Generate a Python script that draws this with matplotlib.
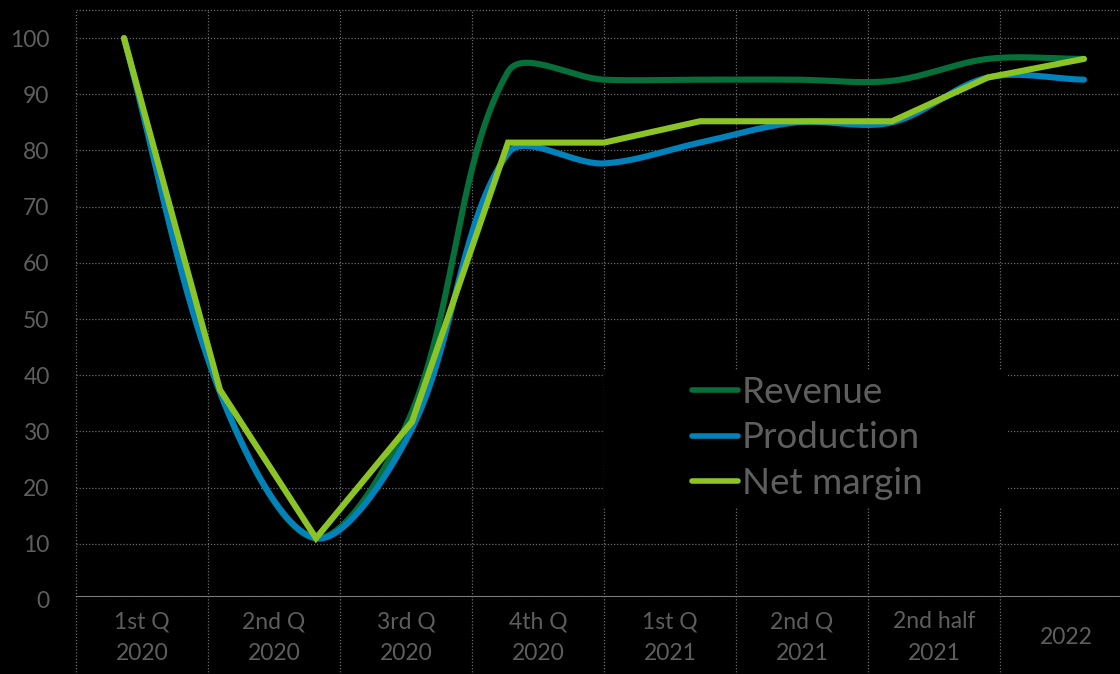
import numpy as np
import matplotlib
matplotlib.use("Agg")
from matplotlib import pyplot as plt
from matplotlib.patches import Rectangle

plt.rcParams['font.family'] = ['Lato', 'DejaVu Sans']

# category axis (bottom)
categories = ["1st Q\n2020", "2nd Q\n2020", "3rd Q\n2020", "4th Q\n2020",
              "1st Q\n2021", "2nd Q\n2021", "2nd half\n2021", "2022"]

# series are plotted on their own 11-step axis
revenue    = [100, 37, 11, 33.5, 94.0, 92.6, 92.6, 92.6, 92.4, 96.3, 96.3]
production = [100, 37, 11, 30.5, 79.5, 77.7, 81.4, 85.0, 85.0, 93.0, 92.6]
net_margin = [100, 37.4, 11, 31.7, 81.4, 81.4, 85.2, 85.2, 85.2, 93.0, 96.3]

C_REV  = "#07703a"
C_PROD = "#0082bb"
C_NET  = "#8cc425"
GREY   = "#5e5e5e"
GRID   = "#6a6a6a"

SX = 96.0    # px per series step
SY = 5.617   # px per y unit


def smooth(yy, n=40):
    # bezier through the points; handle length follows the chord lengths
    # (worked out in pixel space so the overshoot looks right)
    px = np.arange(len(yy), dtype=float) * SX
    py = np.asarray(yy, dtype=float) * SY
    P = np.column_stack([px, py])
    P = np.vstack([P[0], P, P[-1]])
    t = np.linspace(0, 1, n)[:, None]
    out = []
    for i in range(1, len(P) - 2):
        a, b = P[i], P[i + 1]
        d_in = np.hypot(*(P[i] - P[i - 1]))
        d_ab = np.hypot(*(b - a))
        d_out = np.hypot(*(P[i + 2] - b))
        r1 = d_ab / (d_in + d_ab) if d_in + d_ab > 0 else 0
        r2 = d_ab / (d_ab + d_out) if d_ab + d_out > 0 else 0
        c1 = a + (P[i + 1] - P[i - 1]) * r1 / 3
        c2 = b - (P[i + 2] - P[i]) * r2 / 3
        seg = (1-t)**3*a + 3*(1-t)**2*t*c1 + 3*(1-t)*t**2*c2 + t**3*b
        out.append(seg)
    out = np.vstack(out)
    return out[:, 0] / SX, out[:, 1] / SY


fig = plt.figure(figsize=(11.2, 6.74), dpi=100, facecolor="black")
ax = fig.add_axes([76/1120, 74/674, 1056/1120, 590/674])
ax.set_facecolor("black")
ax.set_xlim(-0.5, 7.5)
ax.set_ylim(0, 105)

# grid
for yv in range(0, 101, 10):
    ax.axhline(yv, color=GRID, lw=0.9, ls=(0, (1, 1.5)), zorder=1)
ax.axhline(105, color=GRID, lw=0.9, ls=(0, (1, 1.5)), zorder=1, clip_on=False)
for xv in np.arange(-0.5, 8, 1.0):
    ax.axvline(xv, ymin=-0.13, ymax=1, color=GRID, lw=0.9, ls=(0, (1, 1.5)),
               zorder=1, clip_on=False)
for s in ax.spines.values():
    s.set_visible(False)
ax.spines['bottom'].set_visible(True)
ax.spines['bottom'].set_color("#7a7a7a")
ax.spines['bottom'].set_linewidth(0.8)
ax.spines['bottom'].set_position(('outward', -3))

ax.set_yticks(range(0, 101, 10))
ax.tick_params(axis='y', length=0, pad=19, labelsize=16.5, labelcolor=GREY)
ax.set_xticks(range(len(categories)))
ax.set_xticklabels(categories)
ax.tick_params(axis='x', length=0, pad=30, labelsize=16.5, labelcolor=GREY)
for lab in ax.get_xticklabels():
    lab.set_verticalalignment('center')
    lab.set_linespacing(1.6)

# the series on a second category axis with 11 slots
ax2 = ax.twiny()
ax2.set_xlim(-0.5, 10.5)
ax2.set_ylim(0, 105)
ax2.set_xticks([])
for s in ax2.spines.values():
    s.set_visible(False)

lw = 4.4
sx, sy = smooth(revenue)
ax2.plot(sx, sy, color=C_REV, lw=lw, solid_capstyle='round', label="Revenue", zorder=3)
sx, sy = smooth(production)
ax2.plot(sx, sy, color=C_PROD, lw=lw, solid_capstyle='round', label="Production", zorder=4)
ax2.plot(np.arange(len(net_margin)), net_margin, color=C_NET, lw=lw,
         solid_capstyle='round', solid_joinstyle='miter', label="Net margin", zorder=5)

# black box under the legend (hides the grid there)
ax2.add_patch(Rectangle((604/1120, (674-507)/674), 404/1120, 137/674,
                        transform=fig.transFigure, facecolor="black",
                        edgecolor="none", zorder=2, clip_on=False))

leg = ax2.legend(loc='center left', bbox_to_anchor=(692/1120, (674-438)/674),
                 bbox_transform=fig.transFigure, frameon=False,
                 fontsize=26.5, handlelength=1.25, handletextpad=0.11,
                 labelspacing=0.34, borderpad=0, borderaxespad=0)
leg.set_zorder(6)
for t in leg.get_texts():
    t.set_color(GREY)
for h in leg.get_lines():
    h.set_linewidth(4.0)

fig.savefig("out.png", dpi=100, facecolor="black")
